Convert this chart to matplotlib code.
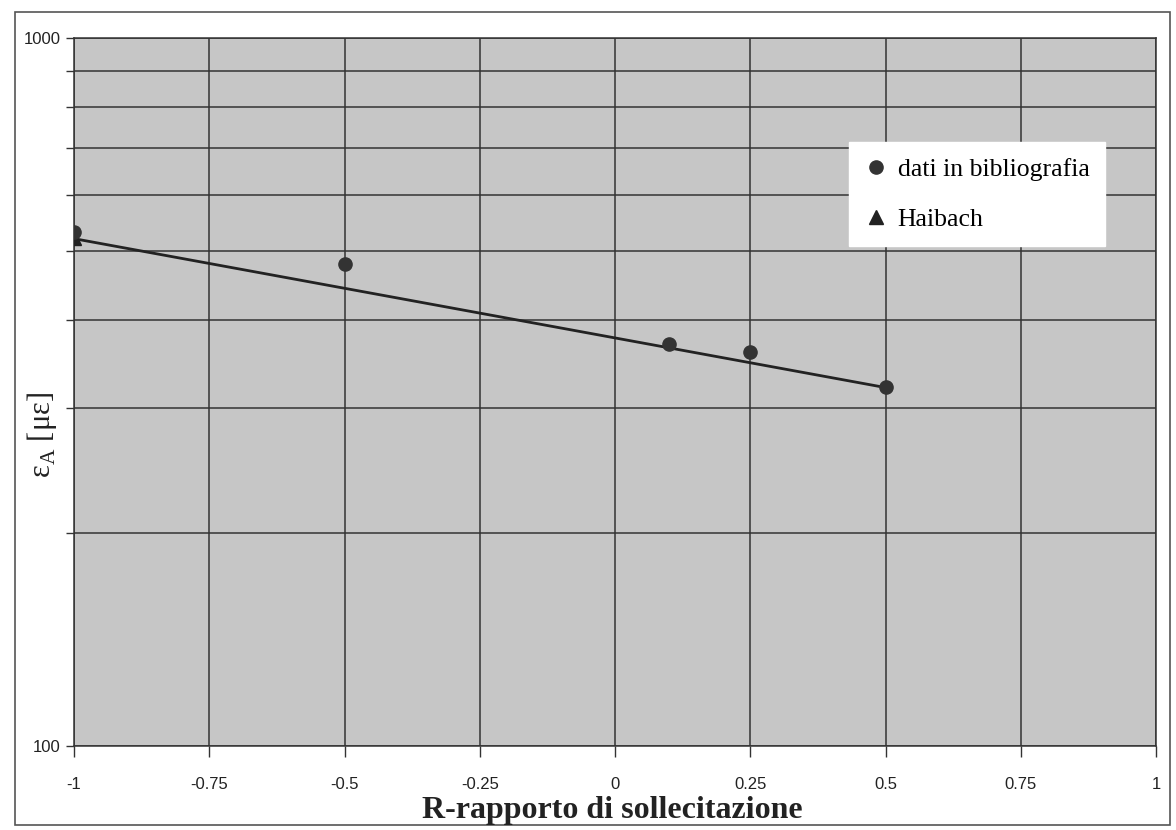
import numpy as np
import matplotlib.pyplot as plt
from matplotlib.ticker import FixedLocator, NullFormatter

# data
R_data = [-1.0, -0.5, 0.1, 0.25, 0.5]
eps_data = [532, 480, 370, 360, 322]

R_haibach = [-1.0]
eps_haibach = [522]

R_line = [-1.0, 0.5]
eps_line = [521, 321]

x_ticks = [-1, -0.75, -0.5, -0.25, 0, 0.25, 0.5, 0.75, 1]
x_labels = ["-1", "-0.75", "-0.5", "-0.25", "0", "0.25", "0.5", "0.75", "1"]

serif = ["Liberation Serif", "DejaVu Serif"]

fig = plt.figure(figsize=(11.76, 8.30), dpi=100)
ax = fig.add_axes([0.063, 0.101, 0.920, 0.853])
ax.set_facecolor("#c6c6c6")

# outer frame of the chart area
fig.patches.append(plt.Rectangle((0.013, 0.006), 0.982, 0.980, transform=fig.transFigure,
                                 fill=False, edgecolor="#555555", linewidth=1.2))

ax.set_yscale("log")
ax.set_xlim(-1, 1)
ax.set_ylim(100, 1000)

ax.yaxis.set_major_locator(FixedLocator([100, 1000]))
ax.yaxis.set_minor_locator(FixedLocator(list(range(200, 1000, 100))))
ax.yaxis.set_minor_formatter(NullFormatter())
ax.set_yticklabels(["100", "1000"], fontsize=12, family="Liberation Sans")
ax.tick_params(axis="y", which="both", direction="out", length=6, width=1, colors="#333333")

ax.set_xticks(x_ticks)
ax.set_xticklabels(x_labels, fontsize=12, family="Liberation Sans")
ax.tick_params(axis="x", direction="out", length=8, width=1, pad=14, colors="#333333")
for lab in ax.get_xticklabels() + ax.get_yticklabels():
    lab.set_color("#222222")

ax.grid(True, which="both", axis="y", color="#333333", linewidth=1.1)
ax.grid(True, which="major", axis="x", color="#333333", linewidth=1.1)
for s in ax.spines.values():
    s.set_color("#333333")
    s.set_linewidth(1.1)

ax.plot(R_line, eps_line, color="#222222", linewidth=2, zorder=3)
ax.plot(R_haibach, eps_haibach, "^", color="#222222", markersize=10, zorder=4,
        label="Haibach")
ax.plot(R_data, eps_data, "o", color="#333333", markersize=9.5, zorder=5,
        label="dati in bibliografia")

handles, labels = ax.get_legend_handles_labels()
leg = ax.legend(handles[::-1], labels[::-1], loc="upper left",
                bbox_to_anchor=(0.716, 0.853), borderaxespad=0, frameon=True,
                fancybox=False, framealpha=1, edgecolor="white", facecolor="white",
                prop={"family": serif, "size": 18.5}, handlelength=0.9,
                handletextpad=0.4, labelspacing=1.05, borderpad=0.6)

fig.text(612 / 1176, 1 - 810 / 830, "R-rapporto di sollecitazione", fontsize=23,
         fontweight="bold", family=serif, color="#222222", ha="center", va="center")
fig.text(42 / 1176, 1 - 435 / 830, r"ε$_\mathregular{A}$ [με]", fontsize=22,
         family=serif, color="#222222", ha="center", va="center", rotation=90)

fig.savefig("out.png", dpi=100)
